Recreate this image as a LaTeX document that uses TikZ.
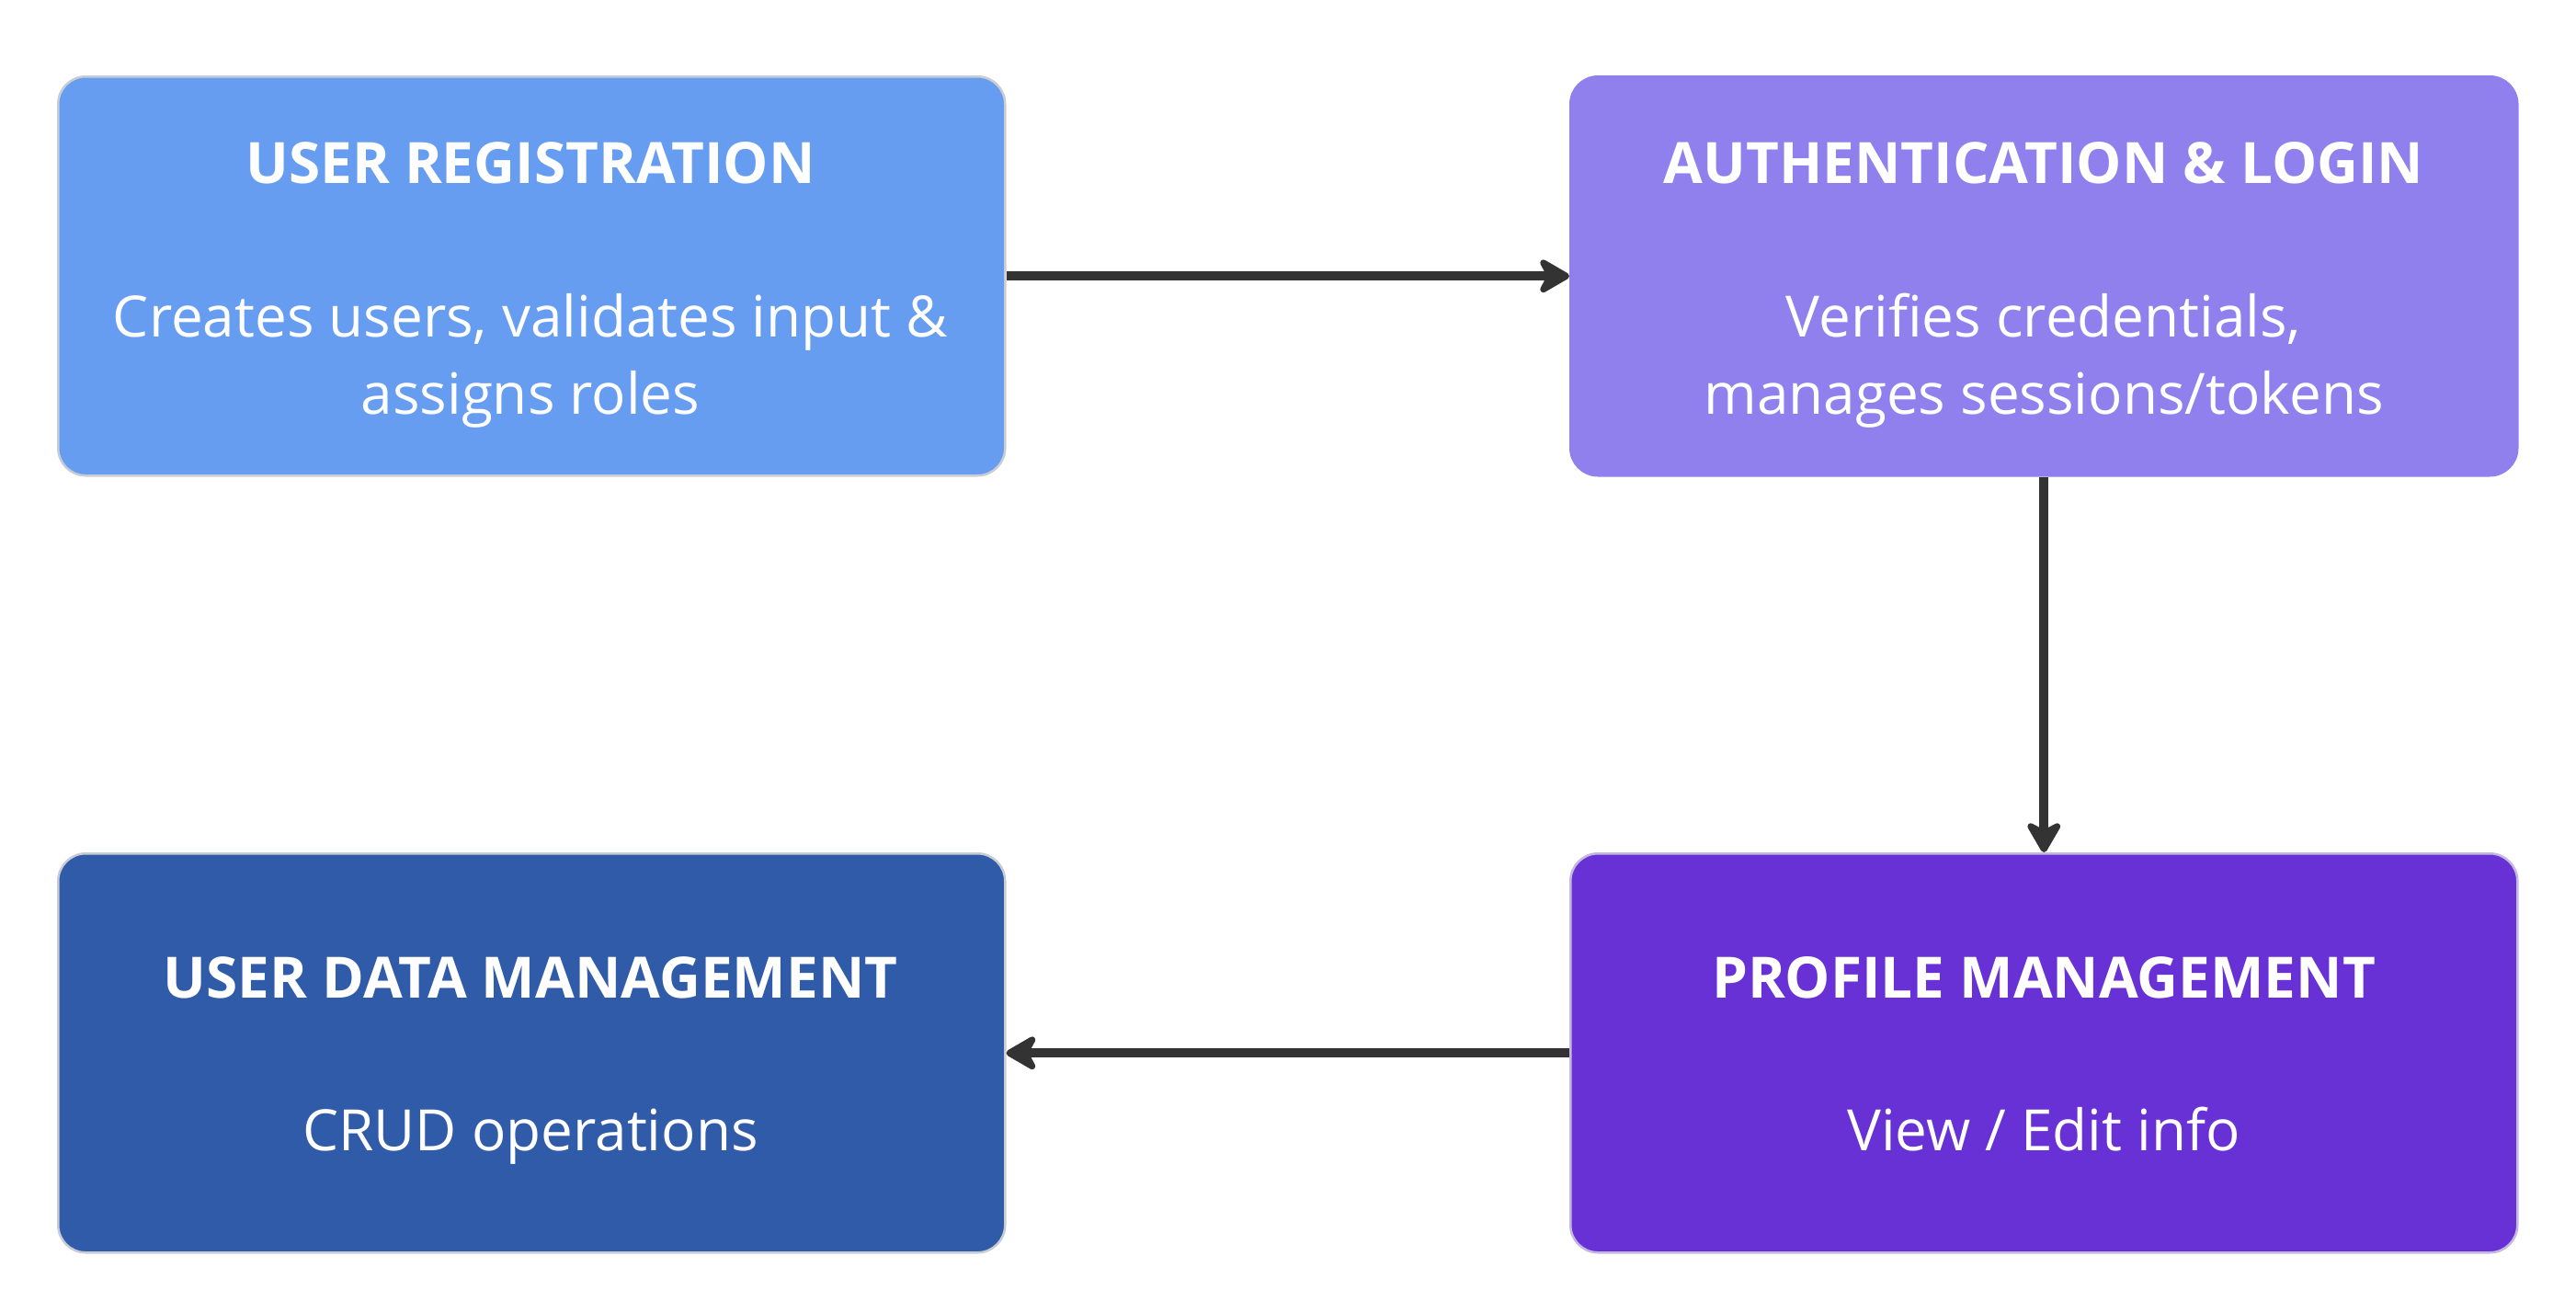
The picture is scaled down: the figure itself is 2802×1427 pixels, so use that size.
\documentclass[tikz,border=0pt]{standalone}
\usepackage{fontspec}
\setmainfont{Open Sans}
\usetikzlibrary{arrows.meta}
\definecolor{cA}{HTML}{669DF1}
\definecolor{cB}{HTML}{8F80EE}
\definecolor{cC}{HTML}{305BA8}
\definecolor{cD}{HTML}{6831D6}
\definecolor{edgeA}{HTML}{C8CCD4}
\definecolor{edgeD}{HTML}{C4B8E0}
\definecolor{arrowc}{HTML}{333333}
\begin{document}
\begin{tikzpicture}[x=1pt,y=-1pt,
  boxstyle/.style={draw=#1, line width=2.5pt, rounded corners=30pt, minimum width=1030pt, minimum height=434pt, inner sep=0pt, anchor=north west},
  titletext/.style={text=white, font=\fontsize{62}{74}\selectfont\bfseries, anchor=base, inner sep=0pt},
  bodytext/.style={text=white, font=\fontsize{62}{74}\selectfont, anchor=base, inner sep=0pt},
  flow/.style={draw=arrowc, line width=10pt, -{Stealth[length=40pt,width=46pt,inset=12pt,round]}}
]
\useasboundingbox[fill=white] (0,0) rectangle (2802,1427);
\node[boxstyle=edgeA, fill=cA] (reg) at (62,82) {};
\node[boxstyle=cB, fill=cB] (auth) at (1707,82) {};
\node[boxstyle=edgeA, fill=cC] (data) at (62,927) {};
\node[boxstyle=edgeD, fill=cD] (prof) at (1707,927) {};

\node[titletext] (regT) at (577,199) {USER REGISTRATION};
\node[bodytext] (regB1) at (577,366) {Creates users, validates input \&};
\node[bodytext] (regB2) at (577,450) {assigns roles};

\node[titletext] (authT) at (2223,199) {AUTHENTICATION \& LOGIN};
\node[bodytext] (authB1) at (2223,366) {Verifies credentials,};
\node[bodytext] (authB2) at (2223,450) {manages sessions/tokens};

\node[titletext] (dataT) at (577,1085) {USER DATA MANAGEMENT};
\node[bodytext] (dataB) at (577,1251) {CRUD operations};

\node[titletext] (profT) at (2223,1085) {PROFILE MANAGEMENT};
\node[bodytext] (profB) at (2223,1251) {View / Edit info};

\draw[flow] (reg.east) -- (auth.west);
\draw[flow] (auth.south) -- (prof.north);
\draw[flow] (prof.west) -- (data.east);
\end{tikzpicture}
\end{document}
